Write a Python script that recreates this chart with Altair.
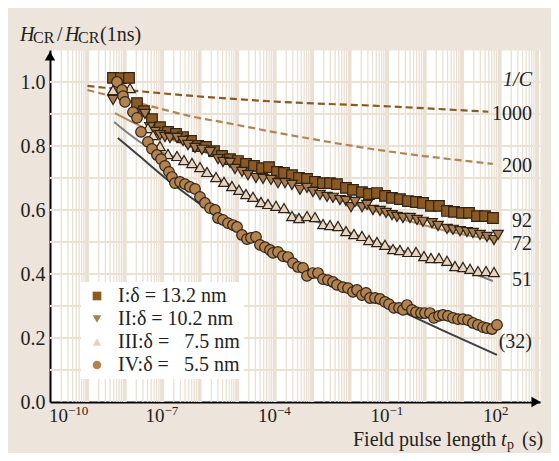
import altair as alt
import pandas as pd

# ---------------- data (pulse length given as log10(t / s)) ----------------
series_names = [
    "\u2002\u2005I:\u03b4 = 13.2 nm",
    "\u2005\u2006II:\u03b4 = 10.2 nm",
    "\u200aIII:\u03b4 = \u20077.5 nm",
    "IV:\u03b4 = \u20075.5 nm",
]

sq_logt = [-8.32, -8.107, -7.893, -7.68, -7.493, -7.28, -7.067, -6.853, -6.64, -6.453,
           -6.24, -6.053, -5.84, -5.627, -5.413, -5.2, -4.987, -4.773, -4.56, -4.347,
           -4.16, -3.947, -3.76, -3.547, -3.36, -3.147, -2.933, -2.72, -2.533, -2.347,
           -2.107, -1.92, -1.68, -1.493, -1.28, -1.067, -0.88, -0.667, -0.453, -0.24,
           -0.053, 0.16, 0.373, 0.587, 0.773, 0.987, 1.173, 1.387, 1.6, 1.813]
sq_h = [1.013, 1.012, 1.013, 0.934, 0.909, 0.884, 0.859, 0.844, 0.838, 0.828,
        0.816, 0.800, 0.797, 0.784, 0.769, 0.759, 0.753, 0.744, 0.738, 0.731,
        0.734, 0.719, 0.716, 0.709, 0.700, 0.697, 0.688, 0.684, 0.684, 0.681,
        0.669, 0.663, 0.656, 0.650, 0.653, 0.644, 0.638, 0.634, 0.628, 0.625,
        0.622, 0.613, 0.613, 0.597, 0.594, 0.591, 0.591, 0.581, 0.581, 0.575]

td_logt = [-8.32, -7.467, -7.333, -7.2, -7.067, -6.933, -6.8, -6.613, -6.453, -6.32,
           -6.133, -5.947, -5.733, -5.52, -5.387, -5.2, -5.067, -4.88, -4.72, -4.507,
           -4.32, -4.107, -3.92, -3.733, -3.547, -3.333, -3.147, -2.987, -2.8, -2.613,
           -2.453, -2.267, -2.107, -1.973, -1.867, -1.68, -1.547, -1.387, -1.2, -1.04,
           -0.88, -0.747, -0.587, -0.4, -0.213, -0.053, 0.187, 0.347, 0.587, 0.747,
           0.933, 1.12, 1.28, 1.467, 1.653, 1.84, 1.947]
td_h = [0.944, 0.900, 0.859, 0.844, 0.834, 0.828, 0.825, 0.825, 0.816, 0.803,
        0.794, 0.788, 0.781, 0.759, 0.750, 0.747, 0.728, 0.719, 0.709, 0.700,
        0.697, 0.694, 0.684, 0.684, 0.678, 0.663, 0.669, 0.656, 0.647, 0.641,
        0.638, 0.631, 0.628, 0.609, 0.625, 0.609, 0.616, 0.600, 0.597, 0.591,
        0.584, 0.578, 0.575, 0.575, 0.569, 0.563, 0.559, 0.550, 0.541, 0.538,
        0.534, 0.531, 0.528, 0.522, 0.516, 0.506, 0.522]

tu_logt = [-8.32, -7.867, -7.387, -7.253, -7.067, -6.853, -6.613, -6.427, -6.213, -6.0,
           -5.813, -5.573, -5.36, -5.147, -4.96, -4.773, -4.587, -4.373, -4.187, -3.973,
           -3.76, -3.547, -3.36, -3.147, -2.933, -2.72, -2.533, -2.32, -2.107, -1.893,
           -1.68, -1.493, -1.28, -1.067, -0.853, -0.667, -0.453, -0.24, -0.027, 0.16,
           0.373, 0.587, 0.8, 1.013, 1.2, 1.413, 1.627, 1.84]
tu_h = [0.975, 0.981, 0.856, 0.834, 0.800, 0.775, 0.769, 0.756, 0.747, 0.734,
        0.719, 0.703, 0.688, 0.675, 0.663, 0.650, 0.641, 0.625, 0.619, 0.613,
        0.606, 0.581, 0.575, 0.581, 0.578, 0.556, 0.553, 0.550, 0.534, 0.525,
        0.519, 0.506, 0.500, 0.491, 0.478, 0.475, 0.469, 0.469, 0.456, 0.450,
        0.450, 0.441, 0.425, 0.422, 0.416, 0.409, 0.409, 0.406]

ci_logt = [-8.213, -8.08, -8.053, -8.0, -7.787, -7.68, -7.573, -7.387, -7.28, -7.147,
           -7.04, -6.933, -6.827, -6.747, -6.667, -6.533, -6.4, -6.267, -6.133, -6.0,
           -5.867, -5.733, -5.6, -5.52, -5.387, -5.253, -5.12, -5.013, -4.88, -4.747,
           -4.64, -4.507, -4.4, -4.267, -4.133, -4.053, -3.92, -3.787, -3.653, -3.52,
           -3.387, -3.253, -3.147, -2.987, -2.853, -2.72, -2.587, -2.453, -2.347, -2.187,
           -2.053, -1.92, -1.813, -1.68, -1.573, -1.467, -1.333, -1.2, -1.067, -0.96,
           -0.827, -0.693, -0.587, -0.48, -0.347, -0.24, -0.107, 0.0, 0.133, 0.24,
           0.373, 0.48, 0.613, 0.747, 0.88, 1.013, 1.147, 1.28, 1.413, 1.547,
           1.653, 1.787, 1.92]
ci_h = [1.000, 0.975, 0.956, 0.938, 0.906, 0.888, 0.844, 0.813, 0.791, 0.772,
        0.759, 0.738, 0.719, 0.703, 0.684, 0.688, 0.681, 0.672, 0.666, 0.641,
        0.622, 0.606, 0.600, 0.575, 0.569, 0.559, 0.553, 0.547, 0.522, 0.509,
        0.513, 0.516, 0.491, 0.484, 0.475, 0.466, 0.469, 0.456, 0.453, 0.434,
        0.422, 0.419, 0.394, 0.403, 0.403, 0.384, 0.381, 0.375, 0.366, 0.359,
        0.356, 0.344, 0.350, 0.334, 0.341, 0.325, 0.325, 0.322, 0.313, 0.306,
        0.294, 0.294, 0.288, 0.303, 0.288, 0.281, 0.278, 0.278, 0.278, 0.263,
        0.269, 0.272, 0.269, 0.263, 0.259, 0.259, 0.256, 0.247, 0.241, 0.234,
        0.231, 0.228, 0.241]

# fitted curves (1/C = 72, 51, 32) and model curves (1/C = 1000, 200)
fit72_logt = [-8.27, -7.4, -6.5, -5.5, -4.5, -3.5, -2.5, -1.5, -0.5, 0.5, 1.87]
fit72_h = [0.903, 0.852, 0.808, 0.765, 0.722, 0.680, 0.640, 0.603, 0.568, 0.537, 0.506]
fit51_logt = [-8.29, -7.47, -6.5, -5.5, -4.5, -3.5, -2.5, -1.5, -0.5, 0.5, 1.81]
fit51_h = [0.875, 0.803, 0.757, 0.697, 0.635, 0.585, 0.550, 0.508, 0.470, 0.435, 0.378]
fit32_logt = [-8.19, -7.8, -7.3, -6.8, -6.1, -5.2, -4.3, -3.4, -2.0, -0.75, 0.5, 1.92]
fit32_h = [0.825, 0.787, 0.737, 0.688, 0.627, 0.553, 0.490, 0.430, 0.355, 0.290, 0.222, 0.147]
c1000_logt = [-9.0, -8.53, -5.1, -3.87, -1.2, 1.69]
c1000_h = [0.988, 0.982, 0.947, 0.938, 0.925, 0.907]
c200_logt = [-9.0, -7.5, -6.0, -5.47, -3.87, -1.2, 1.81]
c200_h = [0.975, 0.930, 0.887, 0.876, 0.840, 0.787, 0.744]

# right-hand curve labels
ann_text = ["1000", "200", "92", "72", "51", "(32)"]
ann_h = [0.900, 0.737, 0.566, 0.494, 0.381, 0.188]
ann_head_h = [1.006]
ann_logt = 2.853

x_tick_values = [1e-10, 1e-7, 1e-4, 1e-1, 1e2]
x_tick_exps = ["\u221210", "\u22127", "\u22124", "\u22121", "2"]
y_tick_values = [0.0, 0.2, 0.4, 0.6, 0.8, 1.0]

# ---------------- styling ----------------
FONT = "Liberation Serif"
BG = "#EDE5DB"
GRID = "#EAE0D3"
EDGE = "#2E2218"
INK = "#222222"
series_shapes = ["square", "triangle-down", "triangle-up", "circle"]
series_fills = ["#8B5A22", "#A87D52", "#E6D4BF", "#B3834F"]

W, H = 490, 352
X_MAX = 10 ** 3.067
xscale = alt.Scale(type="log", domain=[1e-10, X_MAX], nice=False)
yscale = alt.Scale(domain=[0, 1.1], nice=False, zero=False)

xaxis = alt.Axis(values=x_tick_values, labels=False, grid=False, ticks=False,
                 domainColor="black", domainWidth=2, title=None)
yaxis = alt.Axis(values=y_tick_values, format=".1f", grid=False, ticks=False,
                 domainColor="black", domainWidth=2, labelFont=FONT, labelFontSize=20,
                 labelColor=INK, labelPadding=5, title=None)


def frame(logt, h, name):
    return pd.DataFrame({"t": [10.0 ** v for v in logt], "h": h, "series": name})


pts = pd.concat([
    frame(sq_logt, sq_h, series_names[0]),
    frame(td_logt, td_h, series_names[1]),
    frame(tu_logt, tu_h, series_names[2]),
    frame(ci_logt, ci_h, series_names[3]),
], ignore_index=True)
pts["order"] = range(len(pts))


def X():
    return alt.X("t:Q", scale=xscale, axis=xaxis)


def Y():
    return alt.Y("h:Q", scale=yscale, axis=yaxis)


# grid
minor_t = [k * 10.0 ** n for n in range(-10, 4) for k in range(2, 10) if k * 10.0 ** n <= X_MAX]
major_t = [10.0 ** n for n in range(-9, 4)]
grid_minor = alt.Chart(pd.DataFrame({"t": minor_t})).mark_rule(color=GRID, strokeWidth=1.3).encode(x=X())
grid_major = alt.Chart(pd.DataFrame({"t": major_t})).mark_rule(color=GRID, strokeWidth=3.2).encode(x=X())
grid_h = alt.Chart(pd.DataFrame({"h": [round(0.1 * i, 1) for i in range(1, 11)]})).mark_rule(
    color=GRID, strokeWidth=2).encode(y=Y())


def curve(logt, h, color, dash=None, width=2.0):
    kw = dict(color=color, strokeWidth=width, interpolate="monotone")
    if dash:
        kw["strokeDash"] = dash
    return alt.Chart(frame(logt, h, "c")).mark_line(**kw).encode(x=X(), y=Y())


lines = [
    curve(c1000_logt, c1000_h, "#8A5A24", dash=[7, 4], width=2.2),
    curve(c200_logt, c200_h, "#B08456", dash=[7, 4], width=2.2),
    curve(fit72_logt, fit72_h, "#B48A5E", width=2.0),
    curve(fit51_logt, fit51_h, "#7E7E7E", width=2.0),
    curve(fit32_logt, fit32_h, "#3F3F3F", width=2.0),
]

legend = alt.Legend(title=None, orient="none", legendX=31, legendY=232, fillColor="white",
                    padding=4, rowPadding=3, labelFont=FONT, labelFontSize=20, labelColor=INK,
                    symbolSize=75, symbolStrokeColor=EDGE, symbolStrokeWidth=1.2, labelOffset=11,
                    symbolOffset=2)

points = alt.Chart(pts).mark_point(filled=True, size=112, stroke=EDGE, strokeWidth=1.2, opacity=1).encode(
    x=X(),
    y=Y(),
    shape=alt.Shape("series:N", scale=alt.Scale(domain=series_names, range=series_shapes), legend=legend),
    fill=alt.Fill("series:N", scale=alt.Scale(domain=series_names, range=series_fills), legend=legend),
    order=alt.Order("order:Q"),
)

# x tick labels: "10" with a raised exponent, placed by the x scale
ticks_df = pd.DataFrame({"t": x_tick_values, "exp": x_tick_exps})
first_df, rest_df = ticks_df.iloc[:1], ticks_df.iloc[1:]


def tick_layers(df, shift):
    base = alt.Chart(df).mark_text(align="right", baseline="alphabetic", font=FONT, fontSize=19,
                                   color=INK, dx=shift).encode(x=X(), y=alt.value(372), text=alt.value("10"))
    sup = alt.Chart(df).mark_text(align="left", baseline="alphabetic", font=FONT, fontSize=13,
                                  color=INK, dx=shift).encode(x=X(), y=alt.value(365), text="exp:N")
    return [base, sup]


tick_text = tick_layers(first_df, 18) + tick_layers(rest_df, 2)

ann_df = pd.DataFrame({"t": [10.0 ** ann_logt] * len(ann_text), "h": ann_h, "label": ann_text})
ann = alt.Chart(ann_df).mark_text(align="right", baseline="middle", font=FONT, fontSize=20,
                                  color=INK).encode(x=X(), y=Y(), text="label:N")
head_df = pd.DataFrame({"t": [10.0 ** ann_logt], "h": ann_head_h, "label": ["1/C"]})
ann_head = alt.Chart(head_df).mark_text(align="right", baseline="middle", font=FONT, fontSize=20,
                                        fontStyle="italic", color=INK).encode(
    x=X(), y=Y(), text="label:N")

one = pd.DataFrame({"k": [0]})


def txt(s, x, y, size=20, style="normal"):
    return alt.Chart(one).mark_text(align="left", baseline="alphabetic", font=FONT, fontSize=size,
                                    fontStyle=style, color=INK).encode(
        x=alt.value(x), y=alt.value(y), text=alt.value(s))


titles = [
    txt("H", -30, -9, style="italic"), txt("CR", -17, -7, size=16),
    txt("/", 7, -9), txt("H", 15, -9, style="italic"), txt("CR", 28, -7, size=16),
    txt("(1ns)", 50, -9),
    txt("Field pulse length", 303, 396), txt("t", 451, 396, style="italic"),
    txt("p", 457, 399, size=14), txt("(s)", 472, 396),
]

arrows = [
    alt.Chart(one).mark_point(shape="triangle-right", filled=True, color="black", size=110, opacity=1).encode(
        x=alt.value(486), y=alt.value(352)),
    alt.Chart(one).mark_point(shape="triangle-up", filled=True, color="black", size=110, opacity=1).encode(
        x=alt.value(0), y=alt.value(6)),
]

chart = alt.layer(grid_minor, grid_major, grid_h, *lines, points, ann, ann_head, *tick_text, *titles,
                  *arrows).properties(
    width=W, height=H,
    padding={"left": 42, "top": 42, "right": 11, "bottom": 51},
    autosize=alt.AutoSizeParams(type="none"),
    background=BG,
).configure_view(fill="white", stroke="transparent")

chart.save("out.html", embed_options={"renderer": "svg", "actions": False})
